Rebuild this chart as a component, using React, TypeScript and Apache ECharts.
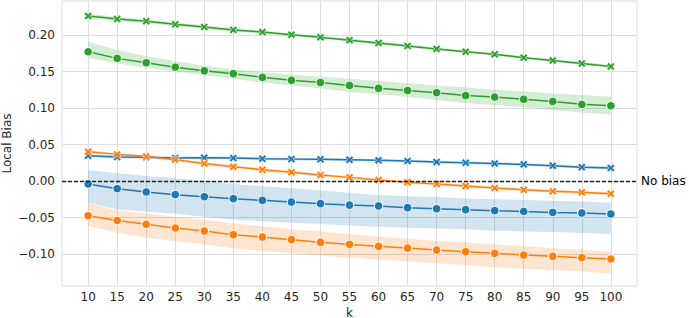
import React, { useEffect, useRef } from "react";
import * as echarts from "echarts";

const ks = [10, 15, 20, 25, 30, 35, 40, 45, 50, 55, 60, 65, 70, 75, 80, 85, 90, 95, 100];
const xTicks = [10, 15, 20, 25, 30, 35, 40, 45, 50, 55, 60, 65, 70, 75, 80, 85, 90, 95, 100];
const yTicks = [-0.1, -0.05, 0, 0.05, 0.1, 0.15, 0.2];

// green
const greenCross = [0.226, 0.222, 0.219, 0.2146, 0.211, 0.207, 0.204, 0.2005, 0.197, 0.193, 0.189, 0.185, 0.181, 0.177, 0.1735, 0.169, 0.165, 0.161, 0.157];
const greenCrossSpread = [0.003, 0.003, 0.0025, 0.0025, 0.0025, 0.0025, 0.002, 0.002, 0.002, 0.002, 0.002, 0.002, 0.002, 0.002, 0.002, 0.002, 0.002, 0.002, 0.002];
const greenCircle = [0.177, 0.168, 0.162, 0.156, 0.151, 0.147, 0.142, 0.138, 0.135, 0.131, 0.127, 0.124, 0.121, 0.117, 0.115, 0.112, 0.109, 0.105, 0.103];
const greenCircleLower = [0.169, 0.161, 0.155, 0.15, 0.145, 0.14, 0.135, 0.131, 0.127, 0.122, 0.119, 0.115, 0.111, 0.107, 0.104, 0.101, 0.097, 0.094, 0.091];
const greenCircleUpper = [0.191, 0.179, 0.171, 0.164, 0.158, 0.153, 0.149, 0.146, 0.143, 0.14, 0.137, 0.134, 0.131, 0.128, 0.125, 0.123, 0.12, 0.118, 0.1155];

// blue
const blueCross = [0.0347, 0.033, 0.0324, 0.0315, 0.032, 0.0315, 0.0306, 0.03, 0.0297, 0.029, 0.0283, 0.0274, 0.026, 0.025, 0.024, 0.0228, 0.021, 0.019, 0.0178];
const blueCrossSpread = [0.002, 0.002, 0.002, 0.002, 0.002, 0.002, 0.002, 0.002, 0.002, 0.002, 0.002, 0.002, 0.002, 0.002, 0.002, 0.002, 0.002, 0.002, 0.002];
const blueCircle = [-0.004, -0.0105, -0.015, -0.0187, -0.0215, -0.0242, -0.0265, -0.0288, -0.031, -0.033, -0.0342, -0.0365, -0.038, -0.0393, -0.0406, -0.0416, -0.043, -0.0438, -0.0452];
const blueCircleLower = [-0.0297, -0.039, -0.042, -0.045, -0.049, -0.053, -0.055, -0.057, -0.059, -0.061, -0.0626, -0.064, -0.065, -0.066, -0.068, -0.069, -0.07, -0.071, -0.073];
const blueCircleUpper = [0.015, 0.0105, 0.007, 0.0037, 0.0004, -0.004, -0.007, -0.01, -0.013, -0.016, -0.019, -0.021, -0.022, -0.024, -0.025, -0.026, -0.027, -0.028, -0.0297];

// orange
const orangeCross = [0.04, 0.0365, 0.0338, 0.029, 0.024, 0.0196, 0.0155, 0.012, 0.0082, 0.005, 0.0014, -0.0018, -0.004, -0.0068, -0.0096, -0.012, -0.014, -0.0155, -0.0174];
const orangeCrossSpread = [0.002, 0.002, 0.002, 0.002, 0.002, 0.002, 0.002, 0.002, 0.002, 0.002, 0.002, 0.002, 0.002, 0.002, 0.002, 0.002, 0.002, 0.002, 0.002];
const orangeCircle = [-0.0475, -0.054, -0.0593, -0.0644, -0.0685, -0.0735, -0.0767, -0.0804, -0.084, -0.0868, -0.0895, -0.0918, -0.0945, -0.0968, -0.099, -0.1014, -0.103, -0.105, -0.1068];
const orangeCircleLower = [-0.0616, -0.071, -0.077, -0.082, -0.087, -0.092, -0.096, -0.099, -0.102, -0.105, -0.108, -0.11, -0.113, -0.115, -0.118, -0.12, -0.122, -0.124, -0.127];
const orangeCircleUpper = [-0.0306, -0.04, -0.044, -0.049, -0.053, -0.058, -0.062, -0.066, -0.069, -0.073, -0.076, -0.079, -0.082, -0.084, -0.087, -0.089, -0.092, -0.094, -0.097];

const BLUE = "#1f77b4";
const ORANGE = "#ff7f0e";
const GREEN = "#2ca02c";
const TEXT = "#262626";
const GRID = "#dddddd";

const X_SYMBOL =
  "path://M0,2.2 L2.2,0 L5,2.8 L7.8,0 L10,2.2 L7.2,5 L10,7.8 L7.8,10 L5,7.2 L2.2,10 L0,7.8 L2.8,5 Z";

function band(id: string, color: string, lower: number[], upper: number[]) {
  return {
    name: id,
    type: "custom",
    silent: true,
    z: 1,
    data: ks.map((k, i) => [k, lower[i], upper[i]]),
    encode: { x: 0, y: [1, 2] },
    renderItem: (params: any, api: any) => {
      if (params.dataIndex !== 0) return null;
      const top = ks.map((k, i) => api.coord([k, upper[i]]));
      const bot = ks.map((k, i) => api.coord([k, lower[i]])).reverse();
      return {
        type: "polygon",
        shape: { points: top.concat(bot) },
        style: { fill: color, opacity: 0.2 },
      };
    },
  };
}

function spreadBand(id: string, color: string, vals: number[], spread: number[]) {
  return band(
    id,
    color,
    vals.map((v, i) => v - spread[i]),
    vals.map((v, i) => v + spread[i])
  );
}

function line(name: string, color: string, vals: number[], cross: boolean, extra: any = {}) {
  return {
    name,
    type: "line",
    data: ks.map((k, i) => [k, vals[i]]),
    symbol: cross ? X_SYMBOL : "circle",
    symbolSize: cross ? 8 : 8.5,
    showSymbol: true,
    itemStyle: { color, borderColor: "#ffffff", borderWidth: cross ? 0.6 : 1 },
    lineStyle: { color, width: 1.5 },
    z: 3,
    ...extra,
  };
}

function fmtY(v: number) {
  const a = Math.abs(v).toFixed(2);
  return v < -1e-9 ? "\u2212" + a : a;
}

export default function App() {
  const ref = useRef<HTMLDivElement>(null);
  useEffect(() => {
    document.body.style.margin = "0";
    const chart = echarts.init(ref.current!, undefined, { renderer: "svg" });
    chart.setOption({
      animation: false,
      backgroundColor: "#ffffff",
      textStyle: { fontFamily: "DejaVu Sans" },
      grid: {
        left: 62,
        top: 1,
        width: 575,
        height: 285,
        show: true,
        borderColor: GRID,
        borderWidth: 1,
        containLabel: false,
        outerBoundsMode: "none",
      },
      xAxis: {
        type: "value",
        min: 5.5,
        max: 104.5,
        name: "k",
        nameLocation: "middle",
        nameGap: 26.5,
        nameMoveOverlap: false,
        nameTextStyle: { color: TEXT, fontSize: 12, fontFamily: "DejaVu Sans", verticalAlign: "middle" },
        axisLine: { show: false },
        axisTick: { show: false, customValues: xTicks },
        axisLabel: {
          customValues: xTicks,
          color: TEXT,
          fontSize: 12,
          margin: 5,
          fontFamily: "DejaVu Sans",
        },
        splitLine: { show: true, lineStyle: { color: GRID, width: 1 } },
      },
      yAxis: {
        type: "value",
        min: -0.1438,
        max: 0.2466,
        name: "Local Bias",
        nameLocation: "middle",
        nameRotate: 90,
        nameGap: 55,
        nameMoveOverlap: false,
        nameTextStyle: { color: TEXT, fontSize: 12, fontFamily: "DejaVu Sans", verticalAlign: "middle" },
        axisLine: { show: false },
        axisTick: { show: false, customValues: yTicks },
        axisLabel: {
          customValues: yTicks,
          color: TEXT,
          fontSize: 12,
          margin: 7,
          fontFamily: "DejaVu Sans",
          formatter: (v: number) => fmtY(v),
        },
        splitLine: { show: true, lineStyle: { color: GRID, width: 1 } },
      },
      series: [
        band("bc", BLUE, blueCircleLower, blueCircleUpper),
        band("oc", ORANGE, orangeCircleLower, orangeCircleUpper),
        band("gc", GREEN, greenCircleLower, greenCircleUpper),
        spreadBand("bx", BLUE, blueCross, blueCrossSpread),
        spreadBand("ox", ORANGE, orangeCross, orangeCrossSpread),
        spreadBand("gx", GREEN, greenCross, greenCrossSpread),
        line("blue-circle", BLUE, blueCircle, false, {
          markLine: {
            silent: true,
            symbol: "none",
            data: [{ yAxis: 0 }],
            lineStyle: { color: "#222222", type: [4, 2], width: 1.3 },
            label: {
              show: true,
              position: "end",
              formatter: "No bias",
              color: "#000000",
              fontSize: 12,
              fontFamily: "DejaVu Sans",
              distance: 4,
            },
            z: 4,
          },
        }),
        line("blue-cross", BLUE, blueCross, true),
        line("orange-circle", ORANGE, orangeCircle, false),
        line("orange-cross", ORANGE, orangeCross, true),
        line("green-circle", GREEN, greenCircle, false),
        line("green-cross", GREEN, greenCross, true),
      ],
    });
    return () => chart.dispose();
  }, []);
  return <div ref={ref} style={{ width: 689, height: 318 }} />;
}
